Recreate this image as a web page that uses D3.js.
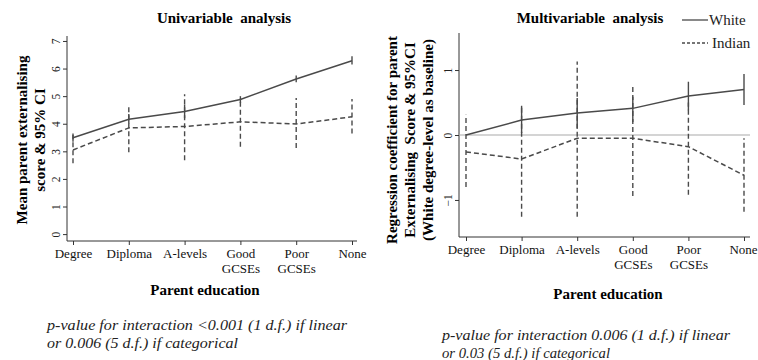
<!DOCTYPE html>
<html>
<head>
<meta charset="utf-8">
<script src="https://cdn.jsdelivr.net/npm/d3@7"></script>
<style>
  body { margin: 0; background: #fff; }
  svg, svg text { font-family: "Liberation Serif", "DejaVu Serif", serif; }
</style>
</head>
<body>
<div id="vis"></div>
<script>
// categories along the x axis (multi-line labels)
var categories = ['Degree', 'Diploma', 'A-levels', 'Good GCSEs', 'Poor GCSEs', 'None'];
var tickLabels = [['Degree'], ['Diploma'], ['A-levels'], ['Good', 'GCSEs'], ['Poor', 'GCSEs'], ['None']];

// univariable: mean score & 95% CI
var uniWhite   = [3.49, 4.16, 4.44, 4.88, 5.62, 6.28];
var uniWhiteLo = [3.35, 4.00, 4.20, 4.75, 5.50, 6.15];
var uniWhiteHi = [3.65, 4.35, 4.70, 5.00, 5.75, 6.45];
var uniIndian   = [3.05, 3.85, 3.90, 4.07, 3.99, 4.25];
var uniIndianLo = [2.57, 2.97, 2.68, 3.17, 3.12, 3.65];
var uniIndianHi = [3.59, 4.60, 5.07, 4.93, 4.93, 4.90];

// multivariable: regression coefficients & 95% CI
var multiWhite   = [0, 0.23, 0.34, 0.41, 0.60, 0.70];
var multiWhiteLo = [null, 0.03, 0.10, 0.20, 0.38, 0.46];
var multiWhiteHi = [null, 0.45, 0.57, 0.59, 0.82, 0.94];
var multiIndian   = [-0.26, -0.37, -0.05, -0.05, -0.18, -0.62];
var multiIndianLo = [-0.80, -1.26, -1.26, -0.94, -0.92, -1.18];
var multiIndianHi = [0.31, 0.45, 1.13, 0.78, 0.50, -0.05];

var uniTicks = [0, 1, 2, 3, 4, 5, 6, 7];
var multiTicks = [-1, 0, 1];

var width = 758;
var height = 360;
var lineColor = '#4a4a4a';
var dash = '5,3';

var svg = d3.select('#vis').append('svg')
  .attr('width', width)
  .attr('height', height);

function rows(vals, lo, hi) {
  return vals.map(function(v, i) {
    return {cat: categories[i], v: v, lo: lo[i], hi: hi[i]};
  });
}

/**
 * draws one panel
 */
function drawPanel(cfg) {
  var g = svg.append('g');

  var x = d3.scalePoint().domain(categories).range(cfg.xRange);
  var y = d3.scaleLinear().domain(cfg.yDomain).range([cfg.yBottom, cfg.yTop]);

  // y axis with rotated tick labels
  var yAxis = g.append('g')
    .attr('transform', 'translate(' + cfg.axisX + ',0)')
    .call(d3.axisLeft(y).tickValues(cfg.ticks).tickFormat(d3.format('d')).tickSize(4).tickSizeOuter(0));
  yAxis.attr('font-family', null);
  yAxis.select('.domain').attr('stroke', '#333').attr('d', 'M0,' + cfg.yTop + 'V' + cfg.yBottom);
  yAxis.selectAll('.tick line').attr('stroke', '#333');
  yAxis.selectAll('.tick text')
    .attr('transform', 'rotate(-90)')
    .attr('x', 0).attr('y', -7).attr('dy', 0)
    .style('text-anchor', 'middle')
    .style('font-size', '11.5px')
    .attr('fill', '#222');

  // x axis
  var xAxis = g.append('g')
    .attr('transform', 'translate(0,' + cfg.yBottom + ')')
    .call(d3.axisBottom(x).tickSize(4).tickSizeOuter(0).tickFormat(''));
  xAxis.attr('font-family', null);
  xAxis.select('.domain').attr('stroke', '#333').attr('d', 'M' + cfg.axisX + ',0H' + cfg.axisEnd);
  xAxis.selectAll('.tick line').attr('stroke', '#333');
  xAxis.selectAll('.tick').each(function(d, i) {
    var t = d3.select(this).append('text')
      .attr('fill', '#111')
      .style('font-size', '13px')
      .style('text-anchor', 'middle');
    var dx = (i === categories.length - 1) ? cfg.lastShift : 0;
    tickLabels[i].forEach(function(s, j) {
      t.append('tspan').attr('x', dx).attr('y', 17 + j * 15).text(s);
    });
  });

  // reference line at zero
  if (cfg.zeroLine) {
    g.append('line')
      .attr('x1', cfg.axisX).attr('x2', cfg.axisEnd)
      .attr('y1', y(0)).attr('y2', y(0))
      .attr('stroke', '#aaa').attr('stroke-width', 1.2);
  }

  var line = d3.line()
    .x(function(d) { return x(d.cat); })
    .y(function(d) { return y(d.v); });

  cfg.series.forEach(function(s) {
    var data = rows(s.v, s.lo, s.hi);
    g.selectAll(null)
      .data(data.filter(function(d) { return d.lo !== null; }))
      .enter().append('line')
      .attr('x1', function(d) { return x(d.cat); })
      .attr('x2', function(d) { return x(d.cat); })
      .attr('y1', function(d) { return y(d.lo); })
      .attr('y2', function(d) { return y(d.hi); })
      .attr('stroke', lineColor)
      .attr('stroke-width', 1.4)
      .attr('stroke-dasharray', s.dashed ? dash : null);

    g.append('path')
      .datum(data)
      .attr('fill', 'none')
      .attr('stroke', lineColor)
      .attr('stroke-width', 1.5)
      .attr('stroke-dasharray', s.dashed ? dash : null)
      .attr('d', line);
  });

  // title
  g.append('text')
    .attr('x', cfg.titleX).attr('y', 23)
    .style('text-anchor', 'middle')
    .style('font-size', '15px')
    .style('font-weight', 'bold')
    .style('white-space', 'pre')
    .text(cfg.title);

  // y label
  var yl = g.append('text')
    .attr('transform', 'translate(' + cfg.yLabelX + ',' + cfg.yLabelY + ') rotate(-90)')
    .style('text-anchor', 'middle')
    .style('font-size', '15px')
    .style('font-weight', 'bold')
    .style('white-space', 'pre');
  cfg.yLabel.forEach(function(s, j) {
    yl.append('tspan').attr('x', 0).attr('y', j * 18).text(s);
  });

  // x label
  g.append('text')
    .attr('x', cfg.xLabelX).attr('y', cfg.xLabelY)
    .style('text-anchor', 'middle')
    .style('font-size', '15px')
    .style('font-weight', 'bold')
    .text('Parent education');

  // footnote
  var fn = g.append('text')
    .style('font-size', '15px')
    .style('font-style', 'italic')
    .attr('fill', '#222');
  cfg.note.forEach(function(s, j) {
    fn.append('tspan')
      .attr('x', cfg.noteX).attr('y', cfg.noteY + j * 18)
      .attr('textLength', cfg.noteLen[j])
      .attr('lengthAdjust', 'spacingAndGlyphs')
      .text(s);
  });
}

drawPanel({
  xRange: [73, 352], axisX: 67, axisEnd: 357,
  yDomain: [-0.25, 7.18], yTop: 36, yBottom: 241, ticks: uniTicks, lastShift: 0,
  series: [
    {v: uniWhite, lo: uniWhiteLo, hi: uniWhiteHi, dashed: false},
    {v: uniIndian, lo: uniIndianLo, hi: uniIndianHi, dashed: true}
  ],
  title: 'Univariable  analysis', titleX: 224,
  yLabel: ['Mean parent externalising', 'score & 95% CI'], yLabelX: 27, yLabelY: 140,
  xLabelX: 205, xLabelY: 295,
  note: ['p-value for interaction <0.001 (1 d.f.) if linear', 'or 0.006 (5 d.f.) if categorical'],
  noteLen: [300, 191],
  noteX: 47, noteY: 330
});

drawPanel({
  xRange: [466, 744], axisX: 459, axisEnd: 750,
  yDomain: [-1.57, 1.57], yTop: 33, yBottom: 237, ticks: multiTicks, zeroLine: true, lastShift: -1,
  series: [
    {v: multiWhite, lo: multiWhiteLo, hi: multiWhiteHi, dashed: false},
    {v: multiIndian, lo: multiIndianLo, hi: multiIndianHi, dashed: true}
  ],
  title: 'Multivariable  analysis', titleX: 590,
  yLabel: ['Regression coefficient for parent', 'Externalising  Score & 95%CI', '(White degree-level as baseline)'],
  yLabelX: 397, yLabelY: 140,
  xLabelX: 608, xLabelY: 299,
  note: ['p-value for interaction 0.006 (1 d.f.) if linear', 'or 0.03 (5 d.f.) if categorical'],
  noteLen: [288, 168],
  noteX: 442, noteY: 340
});

// legend
var legendItems = ['White', 'Indian'];
var legend = svg.append('g');
legendItems.forEach(function(name, i) {
  var ly = 20 + i * 23;
  legend.append('line')
    .attr('x1', 682).attr('x2', 708)
    .attr('y1', ly).attr('y2', ly)
    .attr('stroke', lineColor).attr('stroke-width', 1.3)
    .attr('stroke-dasharray', i === 1 ? '3,2' : null);
  legend.append('text')
    .attr('x', i === 1 ? 712 : 709).attr('y', ly + 5)
    .style('font-size', '15px')
    .attr('fill', '#222')
    .text(name);
});
</script>
</body>
</html>
